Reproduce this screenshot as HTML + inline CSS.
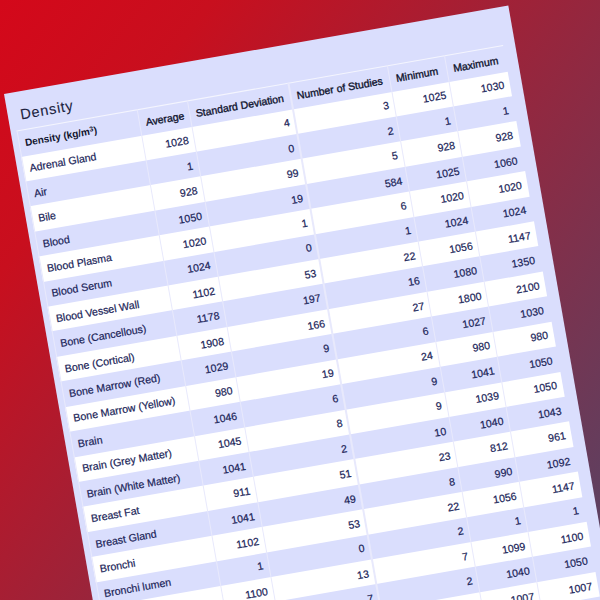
<!DOCTYPE html><html><head><meta charset="utf-8"><style>
html,body{margin:0;padding:0;width:600px;height:600px;overflow:hidden;}
body{background:linear-gradient(128deg,#d4081a 0%,#c80f1e 20%,#554466 100%);position:relative;font-family:"Liberation Sans",sans-serif;}
.pg{position:absolute;left:4.10px;top:94.00px;width:512.00px;height:900.00px;background:#dadefd;transform-origin:0 0;transform:rotate(-9.950deg) scale(1.0000);}
.t{position:absolute;white-space:nowrap;line-height:1;color:#1a2458;}
.r{position:absolute;background:#fff;}
.h0{font-weight:bold;color:#10142e}
.h1{font-weight:normal;-webkit-text-stroke:0.35px #10142e;color:#10142e}
.b{-webkit-text-stroke:0.2px #1a2458}
.v{position:absolute;background:#e8e9fc;width:1.20px;}
.h{position:absolute;background:#f4f5fe;height:1.20px;}
</style></head><body><div class="pg">
<div class="t" style="left:12.50px;top:15.54px;font-size:14.60px;letter-spacing:0.75px;color:#1b1f40;-webkit-text-stroke:0.1px #1b1f40">Density</div>
<div class="r" style="left:6.20px;top:64.53px;width:493.50px;height:25.42px"></div>
<div class="r" style="left:6.20px;top:115.37px;width:493.50px;height:25.42px"></div>
<div class="r" style="left:6.20px;top:166.21px;width:493.50px;height:25.42px"></div>
<div class="r" style="left:6.20px;top:217.05px;width:493.50px;height:25.42px"></div>
<div class="r" style="left:6.20px;top:267.89px;width:493.50px;height:25.42px"></div>
<div class="r" style="left:6.20px;top:318.73px;width:493.50px;height:25.42px"></div>
<div class="r" style="left:6.20px;top:369.57px;width:493.50px;height:25.42px"></div>
<div class="r" style="left:6.20px;top:420.41px;width:493.50px;height:25.42px"></div>
<div class="r" style="left:6.20px;top:471.25px;width:493.50px;height:25.42px"></div>
<div class="r" style="left:6.20px;top:522.09px;width:493.50px;height:25.42px"></div>
<div class="r" style="left:6.20px;top:572.93px;width:493.50px;height:25.42px"></div>
<div class="h" style="left:5.60px;top:37.50px;width:494.10px"></div>
<div class="v" style="left:5.60px;top:38.10px;height:585.67px"></div>
<div class="v" style="left:128.00px;top:38.10px;height:585.67px"></div>
<div class="v" style="left:178.70px;top:38.10px;height:585.67px"></div>
<div class="v" style="left:281.40px;top:38.10px;height:585.67px"></div>
<div class="v" style="left:382.10px;top:38.10px;height:585.67px"></div>
<div class="v" style="left:440.20px;top:38.10px;height:585.67px"></div>
<div class="t h0" style="left:12.40px;top:46.94px;font-size:10.00px">Density (kg/m<sup style="font-size:70%;vertical-align:0;position:relative;top:-0.45em">3</sup>)</div>
<div class="t h1" style="left:134.80px;top:46.94px;font-size:10.50px">Average</div>
<div class="t h1" style="left:185.50px;top:46.94px;font-size:10.50px">Standard Deviation</div>
<div class="t h1" style="left:288.20px;top:46.94px;font-size:10.50px">Number of Studies</div>
<div class="t h1" style="left:388.90px;top:46.94px;font-size:10.50px">Minimum</div>
<div class="t h1" style="left:447.00px;top:46.94px;font-size:10.50px">Maximum</div>
<div class="t b" style="left:12.40px;top:72.26px;font-size:10.60px">Adrenal Gland</div>
<div class="t b" style="right:338.20px;top:72.26px;font-size:10.60px">1028</div>
<div class="t b" style="right:235.50px;top:72.26px;font-size:10.60px">4</div>
<div class="t b" style="right:134.80px;top:72.26px;font-size:10.60px">3</div>
<div class="t b" style="right:76.70px;top:72.26px;font-size:10.60px">1025</div>
<div class="t b" style="right:17.80px;top:72.26px;font-size:10.60px">1030</div>
<div class="t b" style="left:12.40px;top:97.68px;font-size:10.60px">Air</div>
<div class="t b" style="right:338.20px;top:97.68px;font-size:10.60px">1</div>
<div class="t b" style="right:235.50px;top:97.68px;font-size:10.60px">0</div>
<div class="t b" style="right:134.80px;top:97.68px;font-size:10.60px">2</div>
<div class="t b" style="right:76.70px;top:97.68px;font-size:10.60px">1</div>
<div class="t b" style="right:17.80px;top:97.68px;font-size:10.60px">1</div>
<div class="t b" style="left:12.40px;top:123.10px;font-size:10.60px">Bile</div>
<div class="t b" style="right:338.20px;top:123.10px;font-size:10.60px">928</div>
<div class="t b" style="right:235.50px;top:123.10px;font-size:10.60px">99</div>
<div class="t b" style="right:134.80px;top:123.10px;font-size:10.60px">5</div>
<div class="t b" style="right:76.70px;top:123.10px;font-size:10.60px">928</div>
<div class="t b" style="right:17.80px;top:123.10px;font-size:10.60px">928</div>
<div class="t b" style="left:12.40px;top:148.52px;font-size:10.60px">Blood</div>
<div class="t b" style="right:338.20px;top:148.52px;font-size:10.60px">1050</div>
<div class="t b" style="right:235.50px;top:148.52px;font-size:10.60px">19</div>
<div class="t b" style="right:134.80px;top:148.52px;font-size:10.60px">584</div>
<div class="t b" style="right:76.70px;top:148.52px;font-size:10.60px">1025</div>
<div class="t b" style="right:17.80px;top:148.52px;font-size:10.60px">1060</div>
<div class="t b" style="left:12.40px;top:173.94px;font-size:10.60px">Blood Plasma</div>
<div class="t b" style="right:338.20px;top:173.94px;font-size:10.60px">1020</div>
<div class="t b" style="right:235.50px;top:173.94px;font-size:10.60px">1</div>
<div class="t b" style="right:134.80px;top:173.94px;font-size:10.60px">6</div>
<div class="t b" style="right:76.70px;top:173.94px;font-size:10.60px">1020</div>
<div class="t b" style="right:17.80px;top:173.94px;font-size:10.60px">1020</div>
<div class="t b" style="left:12.40px;top:199.36px;font-size:10.60px">Blood Serum</div>
<div class="t b" style="right:338.20px;top:199.36px;font-size:10.60px">1024</div>
<div class="t b" style="right:235.50px;top:199.36px;font-size:10.60px">0</div>
<div class="t b" style="right:134.80px;top:199.36px;font-size:10.60px">1</div>
<div class="t b" style="right:76.70px;top:199.36px;font-size:10.60px">1024</div>
<div class="t b" style="right:17.80px;top:199.36px;font-size:10.60px">1024</div>
<div class="t b" style="left:12.40px;top:224.78px;font-size:10.60px">Blood Vessel Wall</div>
<div class="t b" style="right:338.20px;top:224.78px;font-size:10.60px">1102</div>
<div class="t b" style="right:235.50px;top:224.78px;font-size:10.60px">53</div>
<div class="t b" style="right:134.80px;top:224.78px;font-size:10.60px">22</div>
<div class="t b" style="right:76.70px;top:224.78px;font-size:10.60px">1056</div>
<div class="t b" style="right:17.80px;top:224.78px;font-size:10.60px">1147</div>
<div class="t b" style="left:12.40px;top:250.20px;font-size:10.60px">Bone (Cancellous)</div>
<div class="t b" style="right:338.20px;top:250.20px;font-size:10.60px">1178</div>
<div class="t b" style="right:235.50px;top:250.20px;font-size:10.60px">197</div>
<div class="t b" style="right:134.80px;top:250.20px;font-size:10.60px">16</div>
<div class="t b" style="right:76.70px;top:250.20px;font-size:10.60px">1080</div>
<div class="t b" style="right:17.80px;top:250.20px;font-size:10.60px">1350</div>
<div class="t b" style="left:12.40px;top:275.62px;font-size:10.60px">Bone (Cortical)</div>
<div class="t b" style="right:338.20px;top:275.62px;font-size:10.60px">1908</div>
<div class="t b" style="right:235.50px;top:275.62px;font-size:10.60px">166</div>
<div class="t b" style="right:134.80px;top:275.62px;font-size:10.60px">27</div>
<div class="t b" style="right:76.70px;top:275.62px;font-size:10.60px">1800</div>
<div class="t b" style="right:17.80px;top:275.62px;font-size:10.60px">2100</div>
<div class="t b" style="left:12.40px;top:301.04px;font-size:10.60px">Bone Marrow (Red)</div>
<div class="t b" style="right:338.20px;top:301.04px;font-size:10.60px">1029</div>
<div class="t b" style="right:235.50px;top:301.04px;font-size:10.60px">9</div>
<div class="t b" style="right:134.80px;top:301.04px;font-size:10.60px">6</div>
<div class="t b" style="right:76.70px;top:301.04px;font-size:10.60px">1027</div>
<div class="t b" style="right:17.80px;top:301.04px;font-size:10.60px">1030</div>
<div class="t b" style="left:12.40px;top:326.46px;font-size:10.60px">Bone Marrow (Yellow)</div>
<div class="t b" style="right:338.20px;top:326.46px;font-size:10.60px">980</div>
<div class="t b" style="right:235.50px;top:326.46px;font-size:10.60px">19</div>
<div class="t b" style="right:134.80px;top:326.46px;font-size:10.60px">24</div>
<div class="t b" style="right:76.70px;top:326.46px;font-size:10.60px">980</div>
<div class="t b" style="right:17.80px;top:326.46px;font-size:10.60px">980</div>
<div class="t b" style="left:12.40px;top:351.88px;font-size:10.60px">Brain</div>
<div class="t b" style="right:338.20px;top:351.88px;font-size:10.60px">1046</div>
<div class="t b" style="right:235.50px;top:351.88px;font-size:10.60px">6</div>
<div class="t b" style="right:134.80px;top:351.88px;font-size:10.60px">9</div>
<div class="t b" style="right:76.70px;top:351.88px;font-size:10.60px">1041</div>
<div class="t b" style="right:17.80px;top:351.88px;font-size:10.60px">1050</div>
<div class="t b" style="left:12.40px;top:377.30px;font-size:10.60px">Brain (Grey Matter)</div>
<div class="t b" style="right:338.20px;top:377.30px;font-size:10.60px">1045</div>
<div class="t b" style="right:235.50px;top:377.30px;font-size:10.60px">8</div>
<div class="t b" style="right:134.80px;top:377.30px;font-size:10.60px">9</div>
<div class="t b" style="right:76.70px;top:377.30px;font-size:10.60px">1039</div>
<div class="t b" style="right:17.80px;top:377.30px;font-size:10.60px">1050</div>
<div class="t b" style="left:12.40px;top:402.72px;font-size:10.60px">Brain (White Matter)</div>
<div class="t b" style="right:338.20px;top:402.72px;font-size:10.60px">1041</div>
<div class="t b" style="right:235.50px;top:402.72px;font-size:10.60px">2</div>
<div class="t b" style="right:134.80px;top:402.72px;font-size:10.60px">10</div>
<div class="t b" style="right:76.70px;top:402.72px;font-size:10.60px">1040</div>
<div class="t b" style="right:17.80px;top:402.72px;font-size:10.60px">1043</div>
<div class="t b" style="left:12.40px;top:428.14px;font-size:10.60px">Breast Fat</div>
<div class="t b" style="right:338.20px;top:428.14px;font-size:10.60px">911</div>
<div class="t b" style="right:235.50px;top:428.14px;font-size:10.60px">51</div>
<div class="t b" style="right:134.80px;top:428.14px;font-size:10.60px">23</div>
<div class="t b" style="right:76.70px;top:428.14px;font-size:10.60px">812</div>
<div class="t b" style="right:17.80px;top:428.14px;font-size:10.60px">961</div>
<div class="t b" style="left:12.40px;top:453.56px;font-size:10.60px">Breast Gland</div>
<div class="t b" style="right:338.20px;top:453.56px;font-size:10.60px">1041</div>
<div class="t b" style="right:235.50px;top:453.56px;font-size:10.60px">49</div>
<div class="t b" style="right:134.80px;top:453.56px;font-size:10.60px">8</div>
<div class="t b" style="right:76.70px;top:453.56px;font-size:10.60px">990</div>
<div class="t b" style="right:17.80px;top:453.56px;font-size:10.60px">1092</div>
<div class="t b" style="left:12.40px;top:478.98px;font-size:10.60px">Bronchi</div>
<div class="t b" style="right:338.20px;top:478.98px;font-size:10.60px">1102</div>
<div class="t b" style="right:235.50px;top:478.98px;font-size:10.60px">53</div>
<div class="t b" style="right:134.80px;top:478.98px;font-size:10.60px">22</div>
<div class="t b" style="right:76.70px;top:478.98px;font-size:10.60px">1056</div>
<div class="t b" style="right:17.80px;top:478.98px;font-size:10.60px">1147</div>
<div class="t b" style="left:12.40px;top:504.40px;font-size:10.60px">Bronchi lumen</div>
<div class="t b" style="right:338.20px;top:504.40px;font-size:10.60px">1</div>
<div class="t b" style="right:235.50px;top:504.40px;font-size:10.60px">0</div>
<div class="t b" style="right:134.80px;top:504.40px;font-size:10.60px">2</div>
<div class="t b" style="right:76.70px;top:504.40px;font-size:10.60px">1</div>
<div class="t b" style="right:17.80px;top:504.40px;font-size:10.60px">1</div>
<div class="t b" style="left:12.40px;top:529.82px;font-size:10.60px">Cartilage</div>
<div class="t b" style="right:338.20px;top:529.82px;font-size:10.60px">1100</div>
<div class="t b" style="right:235.50px;top:529.82px;font-size:10.60px">13</div>
<div class="t b" style="right:134.80px;top:529.82px;font-size:10.60px">7</div>
<div class="t b" style="right:76.70px;top:529.82px;font-size:10.60px">1099</div>
<div class="t b" style="right:17.80px;top:529.82px;font-size:10.60px">1100</div>
<div class="t b" style="left:12.40px;top:555.24px;font-size:10.60px">Cerebellum</div>
<div class="t b" style="right:338.20px;top:555.24px;font-size:10.60px">1045</div>
<div class="t b" style="right:235.50px;top:555.24px;font-size:10.60px">7</div>
<div class="t b" style="right:134.80px;top:555.24px;font-size:10.60px">2</div>
<div class="t b" style="right:76.70px;top:555.24px;font-size:10.60px">1040</div>
<div class="t b" style="right:17.80px;top:555.24px;font-size:10.60px">1050</div>
<div class="t b" style="left:12.40px;top:580.66px;font-size:10.60px">Cerebrospinal Fluid</div>
<div class="t b" style="right:338.20px;top:580.66px;font-size:10.60px">1007</div>
<div class="t b" style="right:235.50px;top:580.66px;font-size:10.60px">2</div>
<div class="t b" style="right:134.80px;top:580.66px;font-size:10.60px">4</div>
<div class="t b" style="right:76.70px;top:580.66px;font-size:10.60px">1007</div>
<div class="t b" style="right:17.80px;top:580.66px;font-size:10.60px">1007</div>
<div class="t b" style="left:12.40px;top:606.08px;font-size:10.60px">Cervix</div>
<div class="t b" style="right:338.20px;top:606.08px;font-size:10.60px">1105</div>
<div class="t b" style="right:235.50px;top:606.08px;font-size:10.60px">0</div>
<div class="t b" style="right:134.80px;top:606.08px;font-size:10.60px">1</div>
<div class="t b" style="right:76.70px;top:606.08px;font-size:10.60px">1105</div>
<div class="t b" style="right:17.80px;top:606.08px;font-size:10.60px">1105</div>
</div></body></html>
